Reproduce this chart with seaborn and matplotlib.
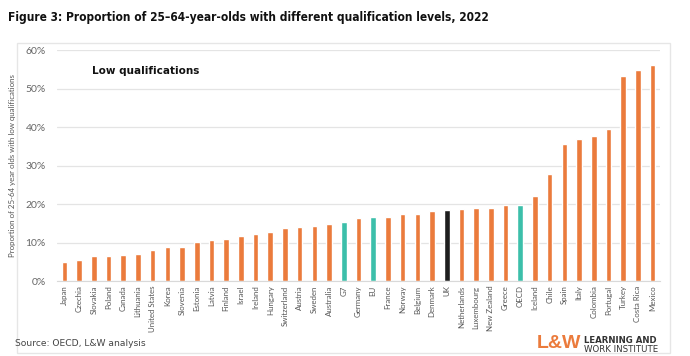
import numpy as np
import matplotlib.pyplot as plt
import matplotlib.patches as patches
from matplotlib.ticker import PercentFormatter
import seaborn as sns

sns.set_style("white")
plt.rcParams["font.family"] = ["Lato", "DejaVu Sans"]

countries = ["Japan", "Czechia", "Slovakia", "Poland", "Canada", "Lithuania",
             "United States", "Korea", "Slovenia", "Estonia", "Latvia", "Finland",
             "Israel", "Ireland", "Hungary", "Switzerland", "Austria", "Sweden",
             "Australia", "G7", "Germany", "EU", "France", "Norway", "Belgium",
             "Denmark", "UK", "Netherlands", "Luxembourg", "New Zealand", "Greece",
             "OECD", "Iceland", "Chile", "Spain", "Italy", "Colombia", "Portugal",
             "Turkey", "Costa Rica", "Mexico"]
low_quals = [5.1, 5.5, 6.6, 6.6, 6.8, 7.1, 8.2, 8.8, 9.0, 10.2, 10.8, 10.9,
             11.7, 12.4, 12.9, 13.9, 14.0, 14.3, 14.8, 15.5, 16.4, 16.7, 16.7,
             17.4, 17.6, 18.3, 18.6, 18.8, 19.0, 19.0, 19.7, 19.9, 22.2, 28.0,
             35.7, 37.0, 37.8, 39.6, 53.3, 54.9, 56.2]

orange = "#EB7B3C"
teal = "#3CBFAA"
black = "#1e1e1e"
aggregates = ["G7", "EU", "OECD"]
colours = {c: (teal if c in aggregates else black if c == "UK" else orange) for c in countries}

fig = plt.figure(figsize=(6.9, 3.56), dpi=100)

# light frame around the chart panel
fig.patches.append(patches.Rectangle((17/690, 1-353/356), 653/690, 310/356,
                                     transform=fig.transFigure, fill=False,
                                     edgecolor="#e6e6e6", linewidth=1))

ax = fig.add_axes([57/690, 1-281.3/356, 603/690, 231/356])
sns.barplot(x=countries, y=low_quals, hue=countries, palette=colours,
            legend=False, width=0.38, ax=ax, saturation=1)

ax.set_xlim(-0.5, len(countries) - 0.5)
ax.set_ylim(0, 60)
ax.set_yticks(np.arange(0, 61, 10))
ax.yaxis.set_major_formatter(PercentFormatter(decimals=0))
ax.grid(axis="y", color="#e4e4e4", linewidth=0.9)
ax.set_axisbelow(True)
for s in ["top", "right", "left"]:
    ax.spines[s].set_visible(False)
ax.spines["bottom"].set_color("#d9d9d9")
ax.tick_params(axis="y", length=0, labelsize=7.5, colors="#666666", pad=8)
ax.tick_params(axis="x", length=0, labelsize=5.7, colors="#555555", pad=3)
plt.setp(ax.get_xticklabels(), rotation=90)
ax.set_ylabel("Proportion of 25-64 year olds with low qualifications",
              fontsize=5.7, color="#555555")
ax.yaxis.set_label_coords(-0.068, 0.5)

ax.text(0.058, 0.912, "Low qualifications", transform=ax.transAxes,
        fontsize=7.5, fontweight="bold", color="#111111", va="center",
        family=["DejaVu Sans"])

fig.text(8/690, 1-18/356, "Figure 3: Proportion of 25\u201364-year-olds with different qualification levels, 2022",
         fontsize=8.6, fontweight="bold", family=["DejaVu Sans"], fontstretch="condensed",
         color="#111111", va="center")
fig.text(15/690, 1-343/356, "Source: OECD, L&W analysis", fontsize=6.6,
         color="#444444", va="center", family=["DejaVu Sans"])

# logo
fig.text(537/690, 1-344/356, "L&W", fontsize=14, fontweight="heavy",
         color=orange, va="center", family=["Liberation Sans"])
fig.text(584/690, 1-340.5/356, "LEARNING AND", fontsize=6.2, fontweight="bold",
         color="#333333", va="center", family=["DejaVu Sans"])
fig.text(584/690, 1-349/356, "WORK INSTITUTE", fontsize=6.2,
         color="#333333", va="center", family=["DejaVu Sans"])

fig.savefig("out.png", dpi=100)
